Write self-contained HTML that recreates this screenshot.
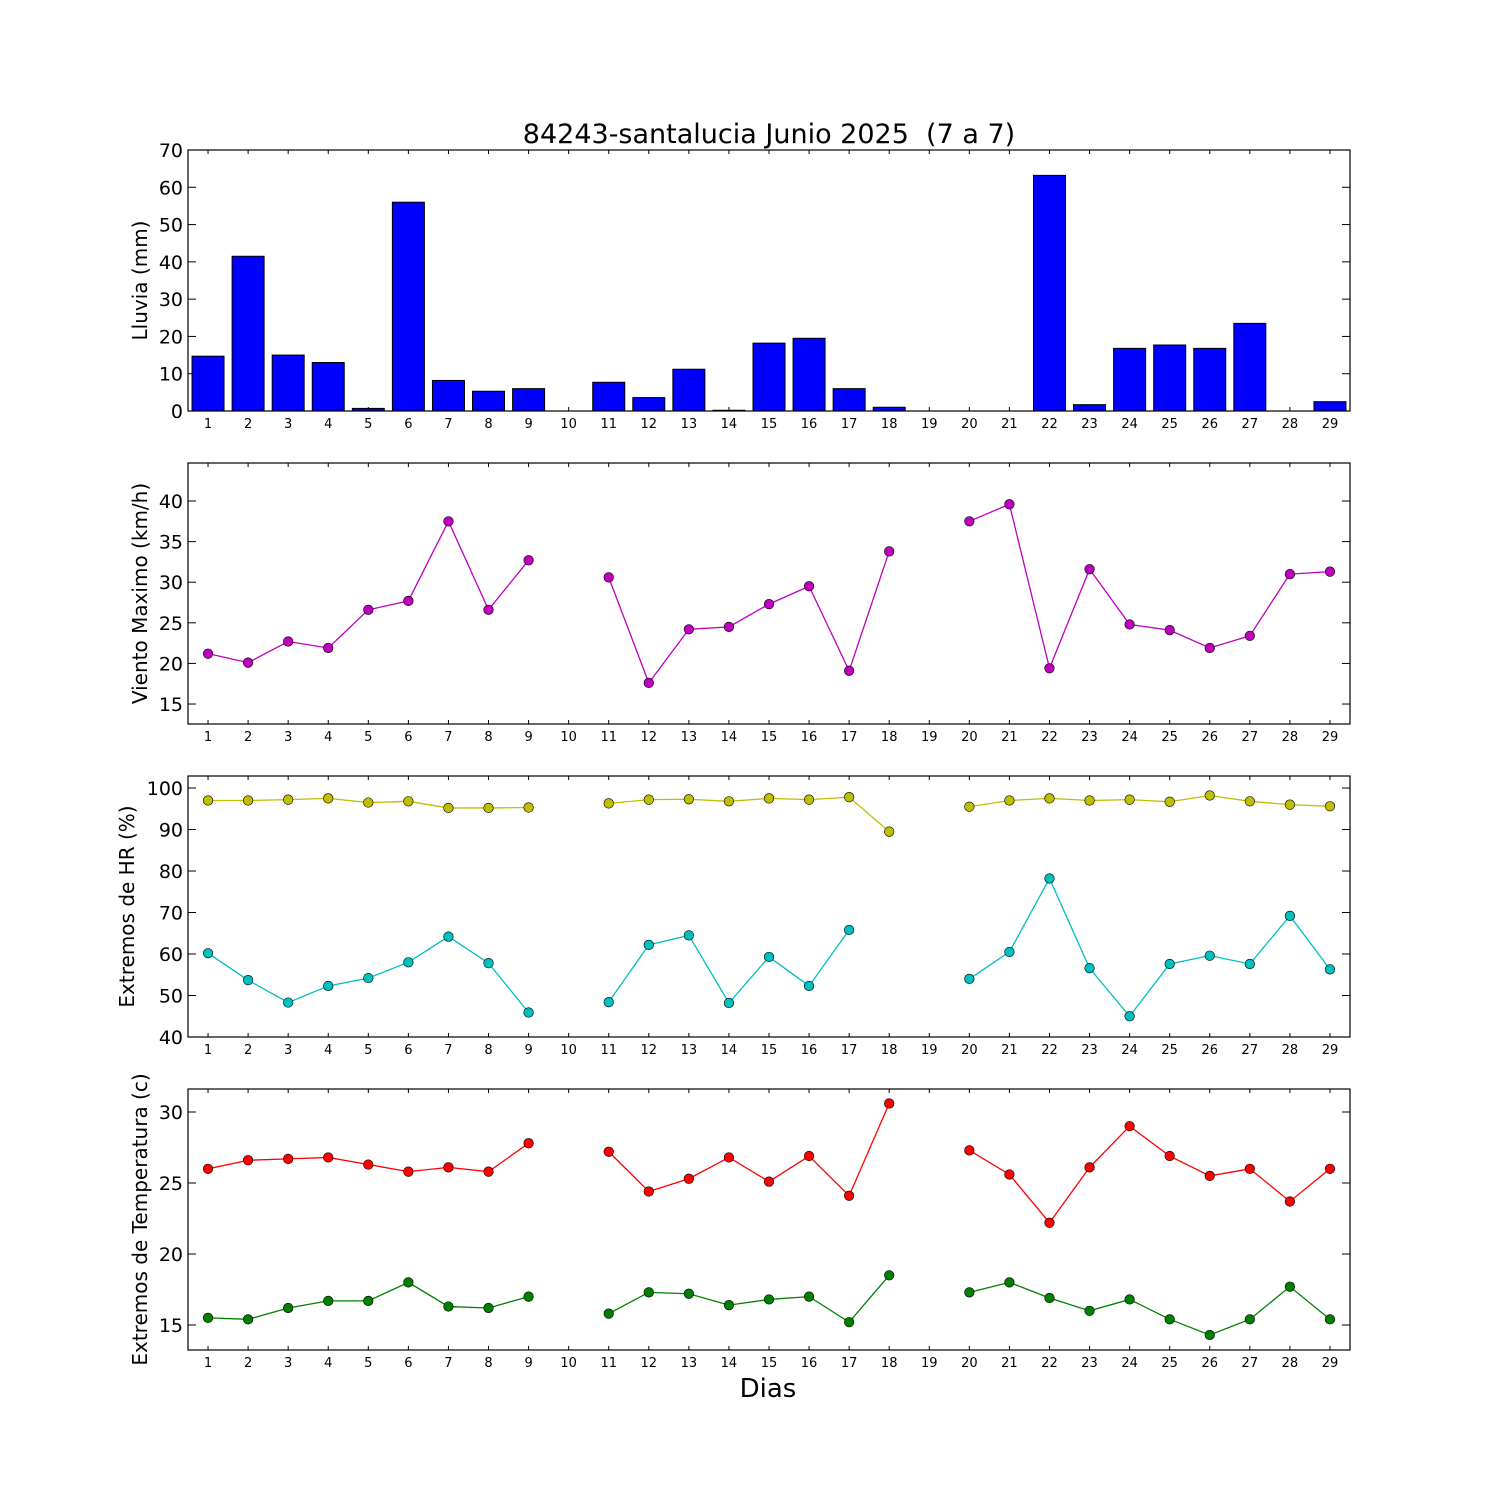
<!DOCTYPE html>
<html><head><meta charset="utf-8"><style>
html,body{margin:0;padding:0;background:#fff;}
svg{display:block;font-family:"DejaVu Sans","Liberation Sans",sans-serif;}
</style></head><body>
<svg id="chart" width="1500" height="1500" viewBox="0 0 1500 1500" xmlns="http://www.w3.org/2000/svg">
<rect width="1500" height="1500" fill="#fff"/>
<text x="769" y="143" font-size="27" text-anchor="middle">84243-santalucia Junio 2025 &#160;(7 a 7)</text>
<text x="768" y="1397" font-size="26" text-anchor="middle">Dias</text>
</svg>
<script>
const days = [1,2,3,4,5,6,7,8,9,10,11,12,13,14,15,16,17,18,19,20,21,22,23,24,25,26,27,28,29];
const rain = [14.7,41.5,15,13,0.7,56,8.2,5.3,6,0,7.7,3.6,11.2,0.2,18.2,19.5,6,1,0,0,0,63.2,1.7,16.8,17.7,16.8,23.5,0,2.5];
const wind = [21.2,20.1,22.7,21.9,26.6,27.7,37.5,26.6,32.7,null,30.6,17.6,24.2,24.5,27.3,29.5,19.1,33.8,null,37.5,39.6,19.4,31.6,24.8,24.1,21.9,23.4,31,31.3];
const hrMax = [97,97,97.2,97.5,96.5,96.8,95.2,95.2,95.3,null,96.3,97.2,97.3,96.8,97.5,97.2,97.8,89.5,null,95.5,97,97.5,97,97.2,96.7,98.2,96.8,96,95.6];
const hrMin = [60.2,53.7,48.3,52.3,54.2,58,64.2,57.8,45.9,null,48.4,62.2,64.5,48.2,59.3,52.3,65.8,null,null,54,60.5,78.2,56.6,45,57.6,59.6,57.6,69.2,56.3];
const tMax = [26,26.6,26.7,26.8,26.3,25.8,26.1,25.8,27.8,null,27.2,24.4,25.3,26.8,25.1,26.9,24.1,30.6,null,27.3,25.6,22.2,26.1,29,26.9,25.5,26,23.7,26];
const tMin = [15.5,15.4,16.2,16.7,16.7,18,16.3,16.2,17,null,15.8,17.3,17.2,16.4,16.8,17,15.2,18.5,null,17.3,18,16.9,16,16.8,15.4,14.3,15.4,17.7,15.4];
const rainTicks = [0,10,20,30,40,50,60,70];
const windTicks = [15,20,25,30,35,40];
const hrTicks = [40,50,60,70,80,90,100];
const tTicks = [15,20,25,30];

const NS="http://www.w3.org/2000/svg";
const svg=document.getElementById('chart');
const X0=188,X1=1350;
function xs(d){return X0+(d-0.5)/29*(X1-X0);}
function mk(tag,attrs,parent){const e=document.createElementNS(NS,tag);for(const k in attrs)e.setAttribute(k,attrs[k]);(parent||svg).appendChild(e);return e;}

function panel(name,top,bot,ymin,ymax,ticks,label){
  const g=mk('g',{});
  
  
  const ys=v=>bot-(v-ymin)/(ymax-ymin)*(bot-top);
  ticks.forEach(t=>{
    const y=ys(t);
    mk('line',{x1:X0,x2:X0+8,y1:y,y2:y,stroke:'#000','stroke-width':1},g);
    mk('line',{x1:X1,x2:X1-8,y1:y,y2:y,stroke:'#000','stroke-width':1},g);
    const tx=mk('text',{x:X0-5,y:y+7,'font-size':19,'text-anchor':'end'},g);
    
    
    tx.textContent=t;
  });
  days.forEach(d=>{
    const x=xs(d);
    mk('line',{x1:x,x2:x,y1:bot,y2:bot-4,stroke:'#000','stroke-width':1},g);
    mk('line',{x1:x,x2:x,y1:top,y2:top+4,stroke:'#000','stroke-width':1},g);
    const tx=mk('text',{x:x,y:bot+17,'font-size':13,'text-anchor':'middle'},g);
    
    
    tx.textContent=d;
  });
  const cy=(top+bot)/2;
  const lb=mk('text',{x:0,y:0,'font-size':20,'text-anchor':'middle',transform:`translate(${label[1]},${cy}) rotate(-90)`},g);
  
  
  lb.textContent=label[0];
  return {g,ys,top,bot};
}
function frame(p){mk('rect',{x:X0,y:p.top,width:X1-X0,height:p.bot-p.top,fill:'none',stroke:'#000','stroke-width':1.2},p.g);}
function series(p,vals,color,name){
  let seg=[];const segs=[];
  vals.forEach((v,i)=>{if(v==null){if(seg.length)segs.push(seg);seg=[];}else seg.push([xs(days[i]),p.ys(v)]);});
  if(seg.length)segs.push(seg);
  segs.forEach(s=>{if(s.length>1){const l=mk('polyline',{points:s.map(q=>q.join(',')).join(' '),fill:'none',stroke:color,'stroke-width':1.3},p.g);
    
    }});
  vals.forEach((v,i)=>{if(v==null)return;const c=mk('circle',{cx:xs(days[i]),cy:p.ys(v),r:4.8,fill:color,stroke:'#000','stroke-width':0.6},p.g);
    
    });
}

const p1=panel('rain',150,411,0,70,rainTicks,['Lluvia (mm)',147]);
rain.forEach((v,i)=>{const x=xs(days[i]);const y=p1.ys(v);
  const b=mk('rect',{x:x-16,y:y,width:32,height:p1.ys(0)-y,fill:'#0000ff',stroke:'#000','stroke-width':1},p1.g);
  
  });
frame(p1);
const p2=panel('wind',463,724,12.54,44.68,windTicks,['Viento Maximo (km/h)',147]);
series(p2,wind,'#bf00bf','wind');frame(p2);
const p3=panel('humidity',776,1037,40,102.9,hrTicks,['Extremos de HR (%)',134]);
series(p3,hrMax,'#bfbf00','hr-max');series(p3,hrMin,'#00bfbf','hr-min');frame(p3);
const p4=panel('temperature',1089,1350,13.24,31.62,tTicks,['Extremos de Temperatura (c)',147]);
series(p4,tMax,'#ff0000','temp-max');series(p4,tMin,'#008000','temp-min');frame(p4);
</script>
</body></html>
